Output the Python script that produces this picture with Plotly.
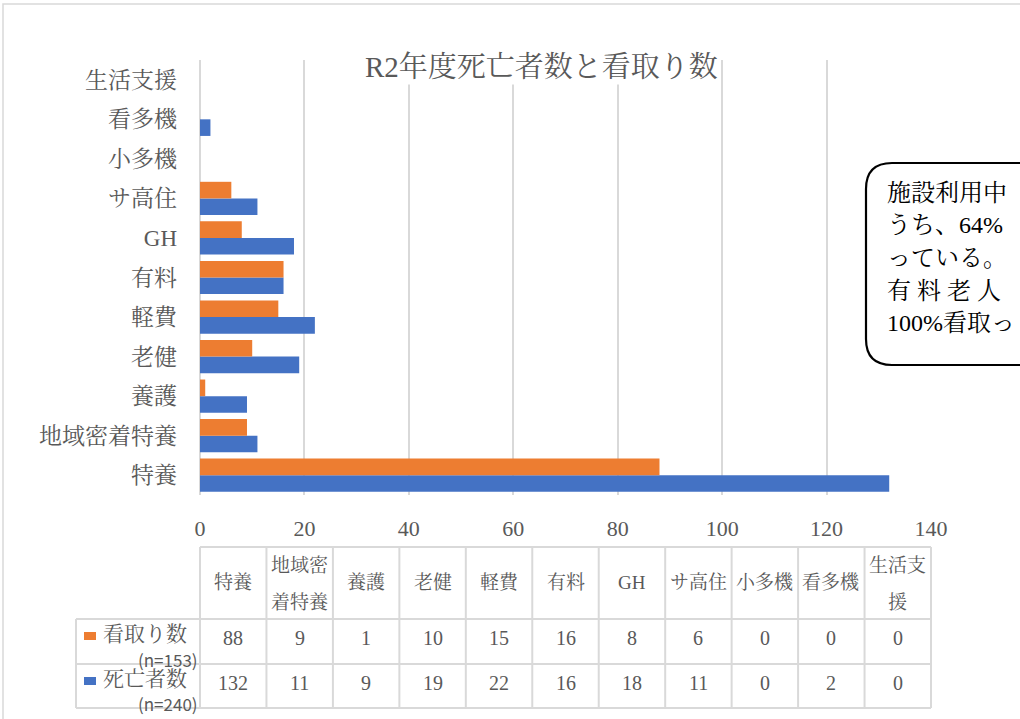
import plotly.graph_objects as go

# ---------------- data ----------------
categories = ["特養", "地域密着特養", "養護", "老健", "軽費", "有料", "GH", "サ高住", "小多機", "看多機", "生活支援"]
table_headers = ["特養", "地域密<br>着特養", "養護", "老健", "軽費", "有料", "GH", "サ高住", "小多機", "看多機", "生活支<br>援"]
mitori = [88, 9, 1, 10, 15, 16, 8, 6, 0, 0, 0]        # 看取り数 (n=153)
shibou = [132, 11, 9, 19, 22, 16, 18, 11, 0, 2, 0]    # 死亡者数 (n=240)
series_names = ["看取り数", "死亡者数"]
series_n = ["(n=153)", "(n=240)"]
x_ticks = [0, 20, 40, 60, 80, 100, 120, 140]
title_text = "R2年度死亡者数と看取り数"
callout_lines = ["施設利用中", "うち、64%", "っている。", "有 料 老 人", "100%看取っ"]

ORANGE = "#ED7D31"
BLUE = "#4472C4"
GRAY = "#595959"
GRID = "#D9D9D9"
SERIF = "'Liberation Serif', 'Noto Serif CJK JP', 'Noto Sans CJK JP', serif"
SANS = "'Noto Sans CJK JP', 'Noto Sans', sans-serif"

W, H = 1020, 719
L, R, T, B = 200, 931, 60, 495  # plot area in pixels


def xp(px):
    return (px - L) / (R - L)


def yp(py):
    return (B - py) / (B - T)


def ann(text, x, y, size, color=GRAY, family=SERIF, xanchor="center", **kw):
    d = dict(text=text, xref="paper", yref="paper", x=xp(x), y=yp(y), showarrow=False,
             xanchor=xanchor, yanchor="middle", font=dict(family=family, size=size, color=color))
    d.update(kw)
    return d


fig = go.Figure()
fig.add_trace(go.Bar(y=categories, x=shibou, orientation="h", name=series_names[1],
                     marker=dict(color=BLUE, line=dict(width=0))))
fig.add_trace(go.Bar(y=categories, x=mitori, orientation="h", name=series_names[0],
                     marker=dict(color=ORANGE, line=dict(width=0))))

shapes = []
annotations = []

# outer chart frame
shapes.append(dict(type="rect", xref="paper", yref="paper", x0=xp(3), x1=xp(1040), y0=yp(4), y1=yp(740),
                   line=dict(color=GRID, width=1.5), fillcolor="rgba(0,0,0,0)", layer="below"))

# title
annotations.append(ann(title_text, 541, 67, 29, bgcolor="white"))

# ---------------- data table ----------------
ncol = len(categories)
col_w = (R - L) / ncol
row_y = [547, 619, 664, 708]
shapes.append(dict(type="line", xref="paper", yref="paper", x0=xp(L), x1=xp(R), y0=yp(row_y[0]), y1=yp(row_y[0]),
                   line=dict(color=GRID, width=2)))
for yy in row_y[1:]:
    shapes.append(dict(type="line", xref="paper", yref="paper", x0=xp(76), x1=xp(R), y0=yp(yy), y1=yp(yy),
                       line=dict(color=GRID, width=2)))
shapes.append(dict(type="line", xref="paper", yref="paper", x0=xp(76), x1=xp(76), y0=yp(row_y[1]), y1=yp(row_y[3]),
                   line=dict(color=GRID, width=2)))
for i in range(ncol + 1):
    xx = L + i * col_w
    shapes.append(dict(type="line", xref="paper", yref="paper", x0=xp(xx), x1=xp(xx), y0=yp(row_y[0]), y1=yp(row_y[3]),
                       line=dict(color=GRID, width=2)))

for i, h in enumerate(table_headers):
    cx = L + (i + 0.5) * col_w
    parts = h.split("<br>")
    if len(parts) == 1:
        annotations.append(ann(parts[0], cx, 582, 19))
    else:
        for j, p in enumerate(parts):
            annotations.append(ann(p, cx, 565 + 37 * j, 19))

rows = [(mitori, ORANGE, 638, 659), (shibou, BLUE, 683, 703)]
for k, (vals, col, yc, yn) in enumerate(rows):
    shapes.append(dict(type="rect", xref="paper", yref="paper", x0=xp(84), x1=xp(96), y0=yp(yc - 6), y1=yp(yc + 2),
                       fillcolor=col, line=dict(width=0)))
    annotations.append(ann(series_names[k], 101, yc - 4, 21, xanchor="left"))
    annotations.append(ann(series_n[k], 200, yn, 17, family=SANS, xanchor="right"))
    for i, v in enumerate(vals):
        cx = L + (i + 0.5) * col_w
        annotations.append(ann(str(v), cx, yc, 20))

# ---------------- callout ----------------
bx0, by0, bx1, by1, rr = 866, 163, 1060, 365, 26
path = (f"M {xp(bx0 + rr)} {yp(by0)} L {xp(bx1 - rr)} {yp(by0)} "
        f"Q {xp(bx1)} {yp(by0)} {xp(bx1)} {yp(by0 + rr)} L {xp(bx1)} {yp(by1 - rr)} "
        f"Q {xp(bx1)} {yp(by1)} {xp(bx1 - rr)} {yp(by1)} L {xp(bx0 + rr)} {yp(by1)} "
        f"Q {xp(bx0)} {yp(by1)} {xp(bx0)} {yp(by1 - rr)} L {xp(bx0)} {yp(by0 + rr)} "
        f"Q {xp(bx0)} {yp(by0)} {xp(bx0 + rr)} {yp(by0)} Z")
shapes.append(dict(type="path", xref="paper", yref="paper", path=path, fillcolor="white",
                   line=dict(color="black", width=2.2), layer="above"))
for j, t in enumerate(callout_lines):
    annotations.append(ann(t, 885, 193 + 32.5 * j, 24, color="black", xanchor="left"))

fig.update_layout(
    width=W, height=H,
    margin=dict(l=L, r=W - R, t=T, b=H - B, autoexpand=False),
    paper_bgcolor="white", plot_bgcolor="white",
    barmode="group", bargap=0.16, bargroupgap=0,
    showlegend=False,
    shapes=shapes, annotations=annotations,
    xaxis=dict(range=[0, 140], tickvals=x_ticks, showgrid=True, gridcolor=GRID, gridwidth=1.5,
               zeroline=True, zerolinecolor=GRID, zerolinewidth=1.5, showline=False,
               tickfont=dict(family=SERIF, size=22, color=GRAY), ticks="", ticklabelstandoff=18,
               fixedrange=True),
    yaxis=dict(categoryorder="array", categoryarray=categories, showgrid=False, zeroline=False,
               showline=False, ticks="", tickfont=dict(family=SERIF, size=23, color=GRAY),
               ticklabelstandoff=22, fixedrange=True),
)

fig.write_html("out.html", config={"displayModeBar": False},
               post_script="document.body.style.margin='0';document.body.style.overflow='hidden';")
